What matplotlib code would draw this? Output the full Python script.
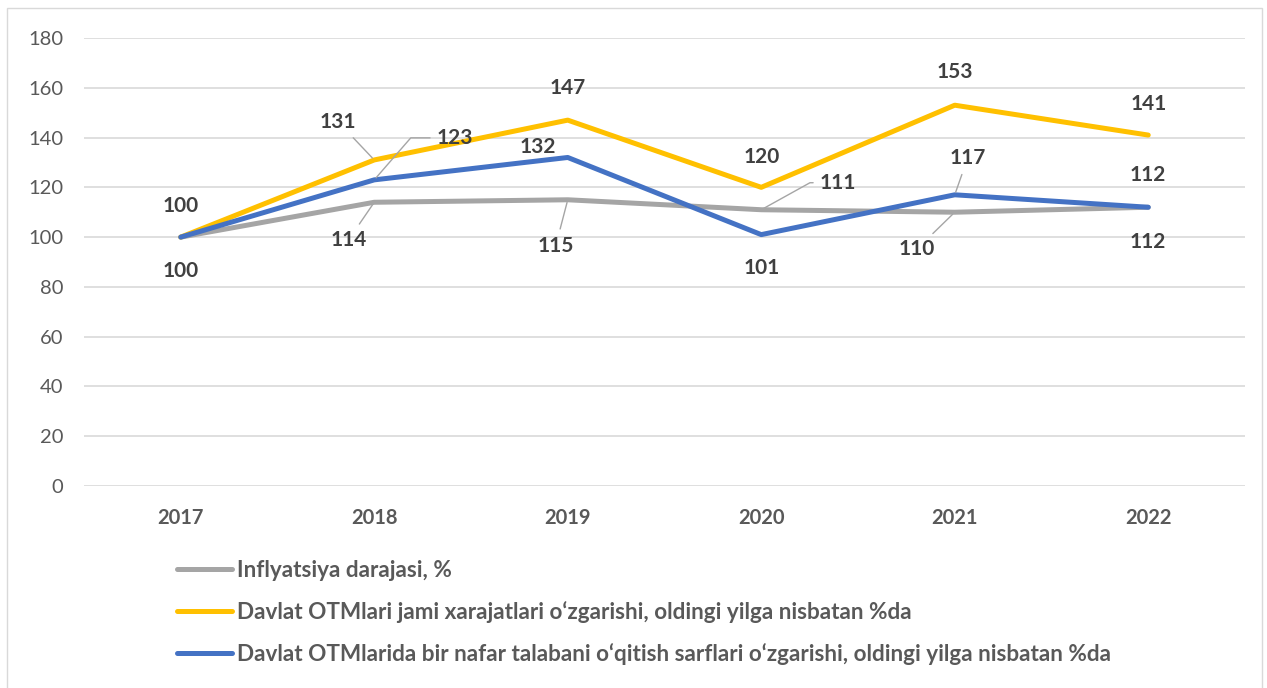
import matplotlib.pyplot as plt
from matplotlib.patches import Rectangle

plt.rcParams['font.family'] = ['Lato', 'DejaVu Sans']

years = ['2017', '2018', '2019', '2020', '2021', '2022']
inflation = [100, 114, 115, 111, 110, 112]
total_exp = [100, 131, 147, 120, 153, 141]
per_student = [100, 123, 132, 101, 117, 112]

names = ['Inflyatsiya darajasi, %',
         'Davlat OTMlari jami xarajatlari o\u2018zgarishi, oldingi yilga nisbatan %da',
         'Davlat OTMlarida bir nafar talabani o\u2018qitish sarflari o\u2018zgarishi, oldingi yilga nisbatan %da']
colors = ['#A5A5A5', '#FFC000', '#4472C4']

fig = plt.figure(figsize=(12.67, 6.88), dpi=100)
ax = fig.add_axes([84 / 1267, 1 - 486 / 688, (1245 - 84) / 1267, (486 - 38) / 688])

x = list(range(len(years)))
ax.plot(x, inflation, color=colors[0], lw=3.6, label=names[0], solid_capstyle='round', zorder=3)
ax.plot(x, total_exp, color=colors[1], lw=3.6, label=names[1], solid_capstyle='round', zorder=4)
ax.plot(x, per_student, color=colors[2], lw=3.6, label=names[2], solid_capstyle='round', zorder=5)

ax.set_xlim(-0.5, 5.5)
ax.set_ylim(0, 180)
ax.set_yticks(range(0, 181, 20))
ax.set_xticks(x)
ax.set_xticklabels(years, fontweight='bold')
ax.grid(axis='y', color='#D9D9D9', lw=1.2)
ax.set_axisbelow(True)
for s in ax.spines.values():
    s.set_visible(False)
ax.tick_params(axis='y', length=0, pad=15, labelsize=14.5, labelcolor='#595959')
ax.tick_params(axis='x', length=0, pad=16, labelsize=14.5, labelcolor='#595959')

lead = dict(arrowstyle='-', color='#A5A5A5', lw=1.0, shrinkA=3, shrinkB=2)

def lab(i, v, dx, dy, arrow=None):
    ax.annotate(str(v), (i, v), xytext=(dx, dy), textcoords='offset pixels',
                ha='center', va='center', fontsize=15, fontweight='bold',
                color='#404040', arrowprops=arrow, zorder=6)

# 2017
lab(0, total_exp[0], 0, 31)
lab(0, inflation[0], 0, -34)
# 2018
lab(1, total_exp[1], -36, 38, lead)
lab(1, per_student[1], 81, 42, dict(lead, connectionstyle='angle,angleA=0,angleB=49,rad=0'))
lab(1, inflation[1], -26, -38, lead)
# 2019
lab(2, total_exp[2], 0, 32)
lab(2, per_student[2], -30, 10)
lab(2, inflation[2], -12, -46, lead)
# 2020
lab(3, total_exp[3], 0, 30)
lab(3, inflation[3], 77, 27, dict(lead, connectionstyle='angle,angleA=0,angleB=29,rad=0'))
lab(3, per_student[3], 0, -33)
# 2021
lab(4, total_exp[4], 0, 33)
lab(4, per_student[4], 13, 37, lead)
lab(4, inflation[4], -38, -37, lead)
# 2022
lab(5, total_exp[5], 0, 31)
lab(5, per_student[5], 0, 32)
lab(5, inflation[5], 0, -35)

leg = fig.legend(loc='upper left', bbox_to_anchor=(177 / 1267, 1 - 560 / 688), frameon=False,
                 fontsize=16.2, handlelength=2.45, handletextpad=0.2, labelspacing=0.88,
                 borderaxespad=0, borderpad=0)
for t in leg.get_texts():
    t.set_fontweight('bold')
    t.set_color('#595959')
for h in leg.get_lines():
    h.set_linewidth(3.6)
    h.set_solid_capstyle('round')

fig.patches.append(Rectangle((7 / 1267, -0.1), (1262 - 7) / 1267, 1.1 - 8 / 688,
                             transform=fig.transFigure, fill=False, edgecolor='#D9D9D9', lw=1))

fig.savefig('out.png', dpi=100)
